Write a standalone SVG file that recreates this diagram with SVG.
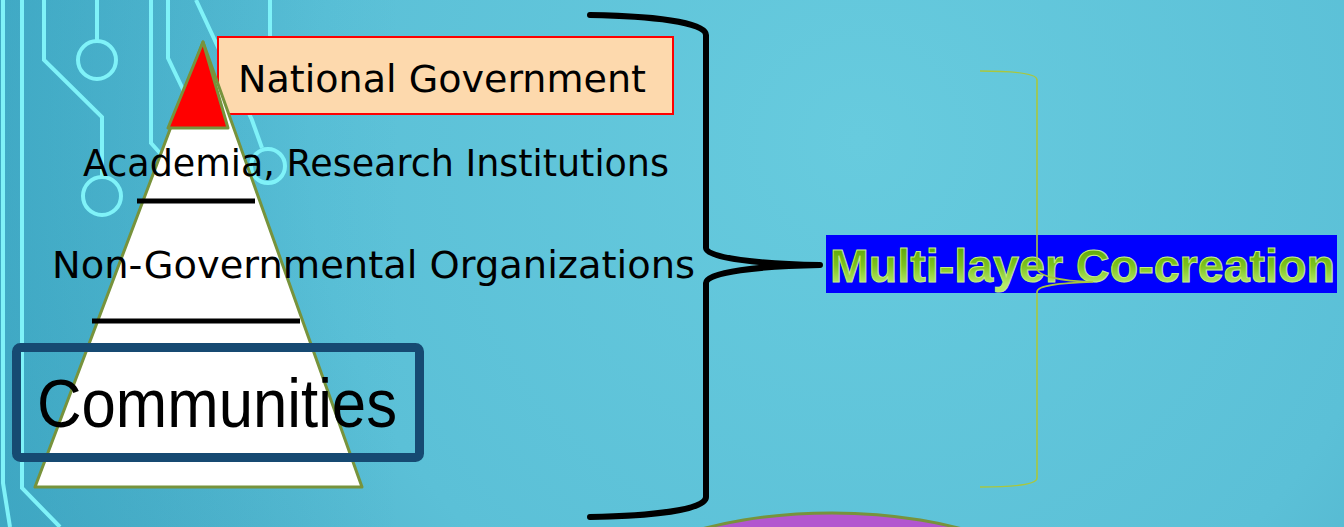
<svg xmlns="http://www.w3.org/2000/svg" width="1344" height="527" viewBox="0 0 1344 527">
  <defs>
    <radialGradient id="bg" cx="860" cy="140" r="1000" gradientUnits="userSpaceOnUse">
      <stop offset="0" stop-color="#67cbde"/>
      <stop offset="0.55" stop-color="#5bc0d7"/>
      <stop offset="1" stop-color="#45a3be"/>
    </radialGradient>
    <linearGradient id="leftShade" x1="0" y1="0" x2="400" y2="0" gradientUnits="userSpaceOnUse">
      <stop offset="0" stop-color="#2fa6c4" stop-opacity="0.4"/>
      <stop offset="1" stop-color="#2fa6c4" stop-opacity="0"/>
    </linearGradient>
    <linearGradient id="wordart" x1="0" y1="247" x2="0" y2="284" gradientUnits="userSpaceOnUse">
      <stop offset="0" stop-color="#5ea60a"/>
      <stop offset="0.5" stop-color="#7cc21e"/>
      <stop offset="1" stop-color="#b6e86a"/>
    </linearGradient>
    <style>
      .circuit { fill: none; stroke: #7ff2f8; stroke-width: 4; }
      .label { font-family: "DejaVu Sans", "Liberation Sans", sans-serif; fill: #000000; }
      .rule { stroke: #000000; stroke-width: 5; }
    </style>
  </defs>

  <rect width="1344" height="527" fill="url(#bg)"/>
  <rect width="400" height="527" fill="url(#leftShade)"/>

  <g id="circuit-background">
    <path class="circuit" d="M3,0 V483 L10,527" stroke="#6fe3f3"/>
    <path class="circuit" d="M22,0 V488 L60,527"/>
    <path class="circuit" d="M44,0 V60 L102,117 V177"/>
    <circle class="circuit" cx="102" cy="196" r="19"/>
    <path class="circuit" d="M97,0 V41"/>
    <circle class="circuit" cx="97" cy="60" r="19"/>
    <path class="circuit" d="M151,0 V143 L175,170"/>
    <path class="circuit" d="M168,0 V58 L200,125"/>
    <path class="circuit" d="M196,0 L252,120 L262,148"/>
    <circle class="circuit" cx="268" cy="166" r="17"/>
    <path class="circuit" d="M270,0 V40"/>
  </g>

  <g id="national-government">
    <rect x="218" y="37" width="455" height="77" fill="#fdd9ad" stroke="#ff0000" stroke-width="2"/>
    <text class="label" x="238" y="92" font-size="37" textLength="408" lengthAdjust="spacingAndGlyphs">National Government</text>
  </g>

  <g id="pyramid">
    <polygon points="203,42 35,487 362,487" fill="#ffffff" stroke="#77933c" stroke-width="3" stroke-linejoin="round"/>
    <polygon points="203,42 168,128 228,128" fill="#ff0000" stroke="#77933c" stroke-width="3" stroke-linejoin="round"/>
    <line class="rule" x1="137" y1="201" x2="255" y2="201"/>
    <line class="rule" x1="92" y1="321" x2="300" y2="321"/>
  </g>

  <g id="academia">
    <text class="label" x="83" y="176" font-size="38" textLength="586" lengthAdjust="spacingAndGlyphs">Academia, Research Institutions</text>
  </g>

  <g id="ngo">
    <text class="label" x="52" y="278" font-size="37" textLength="643" lengthAdjust="spacingAndGlyphs">Non-Governmental Organizations</text>
  </g>

  <g id="communities">
    <rect x="16.5" y="347.5" width="403" height="110" rx="4" fill="none" stroke="#164a72" stroke-width="9"/>
    <text x="37" y="427" font-family="'Liberation Sans', 'DejaVu Sans', sans-serif" font-size="68" fill="#000000" textLength="360" lengthAdjust="spacingAndGlyphs">Communities</text>
  </g>

  <g id="connectors">
    <path id="black-brace" d="M590,15 C650,16 706,22 706,35 V248 C706,258 760,264 820,265 C760,266 706,272 706,283 V497 C706,510 650,516 590,517" fill="none" stroke="#000000" stroke-width="6" stroke-linecap="round" stroke-linejoin="round"/>
  </g>

  <g id="multi-layer">
    <rect x="826" y="235" width="511" height="58" fill="#0000ff"/>
    <text x="830" y="282" font-family="'Liberation Sans', Arial, sans-serif" font-weight="bold" font-size="47" textLength="505" lengthAdjust="spacingAndGlyphs" fill="url(#wordart)" stroke="#c4ec86" stroke-width="1">Multi-layer Co-creation</text>
  </g>

  <g id="green-brace">
    <path d="M980,71 C1010,71 1037,73 1037,80 V268 C1037,276 1060,281 1093,282 C1060,283 1037,285 1037,292 V478 C1037,485 1010,487 980,487" fill="none" stroke="#a9c73e" stroke-width="1.6"/>
  </g>

  <g id="ellipse">
    <ellipse cx="832" cy="613" rx="240" ry="100" fill="#b256cf" stroke="#77933c" stroke-width="3"/>
  </g>
</svg>
